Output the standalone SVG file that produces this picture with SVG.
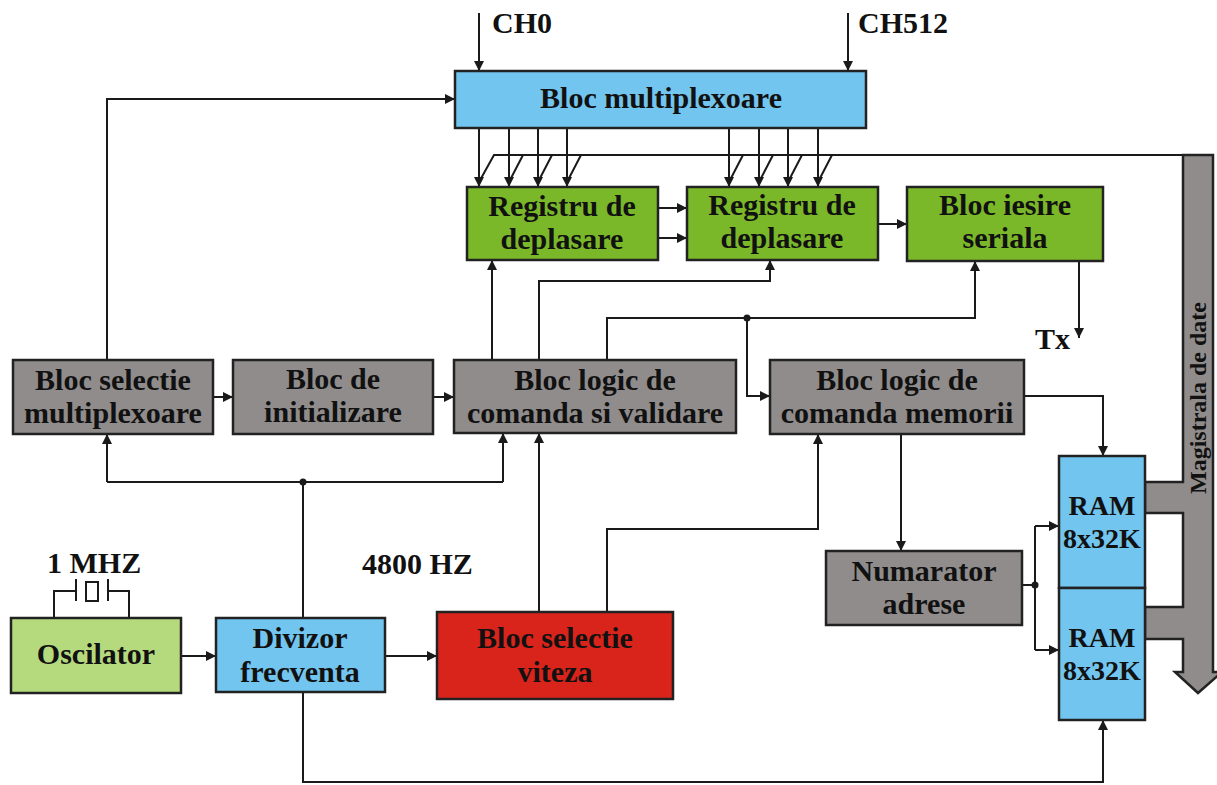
<svg xmlns="http://www.w3.org/2000/svg" width="1217" height="785" viewBox="0 0 1217 785">
<defs>
<marker id="ah" markerUnits="userSpaceOnUse" markerWidth="12" markerHeight="10" refX="10" refY="5" orient="auto">
<path d="M0,0 L10,5 L0,10 Z" fill="#1a1a1a"/>
</marker>
<style>
.box{stroke:#222;stroke-width:2.5}
.gray{fill:#8f8c8b}
.green{fill:#7ab829}
.blue{fill:#72c5ef}
.red{fill:#d9241b}
.lgreen{fill:#b5da7e}
.t{font-family:"Liberation Serif","Times New Roman",serif;font-weight:bold;font-size:30px;fill:#111;text-anchor:middle}
.tl{font-family:"Liberation Serif","Times New Roman",serif;font-weight:bold;font-size:30px;fill:#111}
.c{fill:none;stroke:#1a1a1a;stroke-width:2}
.a{fill:none;stroke:#1a1a1a;stroke-width:2;marker-end:url(#ah)}
</style>
</defs>
<rect width="1217" height="785" fill="#fff"/>

<g id="connectors">
<path class="a" d="M479,13 V71"/>
<path class="a" d="M848,13 V71"/>
<path class="a" d="M479,128 V187"/>
<path class="a" d="M509,128 V187"/>
<path class="a" d="M538,128 V187"/>
<path class="a" d="M567,128 V187"/>
<path class="a" d="M729,128 V187"/>
<path class="a" d="M759,128 V187"/>
<path class="a" d="M788,128 V187"/>
<path class="a" d="M818,128 V187"/>
<path class="c" d="M479,182 L494,155 H1184"/>
<path class="c" d="M509,182 L523,155 M538,182 L552,155 M567,182 L581,155"/>
<path class="c" d="M729,182 L743,155 M759,182 L773,155 M788,182 L802,155 M818,182 L832,155"/>
<path class="a" d="M658,208 H687"/>
<path class="a" d="M658,238 H687"/>
<path class="a" d="M878,224 H907"/>
<path class="a" d="M1079,261 V338"/>
<path class="a" d="M213,397 H233"/>
<path class="a" d="M433,397 H454"/>
<path class="a" d="M107,360 V99 H455"/>
<path class="a" d="M492,360 V260"/>
<path class="a" d="M539,360 V281 H770 V260"/>
<path class="a" d="M607,360 V318 H975 V261"/>
<path class="a" d="M747,318 V396 H770"/>
<path class="a" d="M1024,396 H1103 V456"/>
<path class="a" d="M901,434 V551"/>
<path class="c" d="M1022,585 H1035 M1035,526 V650"/>
<path class="a" d="M1035,526 H1059"/>
<path class="a" d="M1035,650 H1059"/>
<path class="c" d="M303,618 V482 M107,482 H503"/>
<path class="a" d="M107,482 V434"/>
<path class="a" d="M503,482 V433"/>
<path class="a" d="M539,612 V433"/>
<path class="a" d="M607,612 V529 H818 V434"/>
<path class="a" d="M181,656 H216"/>
<path class="a" d="M385,656 H437"/>
<path class="a" d="M303,692 V782 H1103 V720"/>
<circle cx="747" cy="318" r="3.5" fill="#1a1a1a"/>
<circle cx="1035" cy="585" r="3.5" fill="#1a1a1a"/>
<circle cx="303" cy="482" r="3.5" fill="#1a1a1a"/>
</g>

<g id="bus">
<path d="M1183,155 H1213 V672 H1222 L1198,693 L1175,672 H1183 V639 H1145 V607 H1183 V513 H1145 V482 H1183 Z" fill="#8f8c8b" stroke="#222" stroke-width="2.5"/>
<text transform="translate(1206,398) rotate(-90)" style="font-family:'Liberation Serif','Times New Roman',serif;font-weight:bold;font-size:24px;fill:#111;text-anchor:middle">Magistrala de date</text>
</g>

<g id="crystal">
<path class="c" d="M54,618 V591 H76 M76,579 V601 M86,582 H98 V601 H86 Z M108,579 V601 M108,591 H129 V618"/>
</g>

<g id="labels">
<text class="tl" x="492" y="33">CH0</text>
<text class="tl" x="858" y="33">CH512</text>
<text class="tl" x="1035" y="349">Tx</text>
<text class="tl" x="47" y="573">1 MHZ</text>
<text class="tl" x="362" y="574">4800 HZ</text>
</g>

<g id="mux"><rect class="box blue" x="455" y="71" width="411" height="57"/><text class="t" x="661" y="108">Bloc multiplexoare</text></g>
<g id="reg1"><rect class="box green" x="467" y="187" width="191" height="73"/><text class="t" x="562" y="216">Registru de</text><text class="t" x="562" y="249">deplasare</text></g>
<g id="reg2"><rect class="box green" x="687" y="187" width="191" height="73"/><text class="t" x="782" y="215">Registru de</text><text class="t" x="782" y="248">deplasare</text></g>
<g id="iesire"><rect class="box green" x="907" y="187" width="196" height="74"/><text class="t" x="1005" y="215">Bloc iesire</text><text class="t" x="1005" y="248">seriala</text></g>
<g id="selmux"><rect class="box gray" x="13" y="360" width="200" height="74"/><text class="t" x="113" y="390">Bloc selectie</text><text class="t" x="113" y="423">multiplexoare</text></g>
<g id="init"><rect class="box gray" x="233" y="360" width="200" height="74"/><text class="t" x="333" y="389">Bloc de</text><text class="t" x="333" y="422">initializare</text></g>
<g id="validare"><rect class="box gray" x="454" y="360" width="282" height="73"/><text class="t" x="595" y="390">Bloc logic de</text><text class="t" x="595" y="423">comanda si validare</text></g>
<g id="memorii"><rect class="box gray" x="770" y="360" width="254" height="74"/><text class="t" x="897" y="390">Bloc logic de</text><text class="t" x="897" y="423">comanda memorii</text></g>
<g id="numarator"><rect class="box gray" x="826" y="551" width="196" height="74"/><text class="t" x="924" y="581">Numarator</text><text class="t" x="924" y="614">adrese</text></g>
<g id="ram1"><rect class="box blue" x="1059" y="456" width="86" height="132"/><text class="t" x="1102" y="515" style="font-size:28px">RAM</text><text class="t" x="1102" y="548" style="font-size:28px">8x32K</text></g>
<g id="ram2"><rect class="box blue" x="1059" y="588" width="86" height="132"/><text class="t" x="1102" y="647" style="font-size:28px">RAM</text><text class="t" x="1102" y="680" style="font-size:28px">8x32K</text></g>
<g id="oscilator"><rect class="box lgreen" x="11" y="618" width="170" height="75"/><text class="t" x="96" y="664">Oscilator</text></g>
<g id="divizor"><rect class="box blue" x="216" y="618" width="169" height="74"/><text class="t" x="300" y="648">Divizor</text><text class="t" x="300" y="682">frecventa</text></g>
<g id="viteza"><rect class="box red" x="437" y="612" width="236" height="87"/><text class="t" x="555" y="648">Bloc selectie</text><text class="t" x="555" y="682">viteza</text></g>
</svg>
